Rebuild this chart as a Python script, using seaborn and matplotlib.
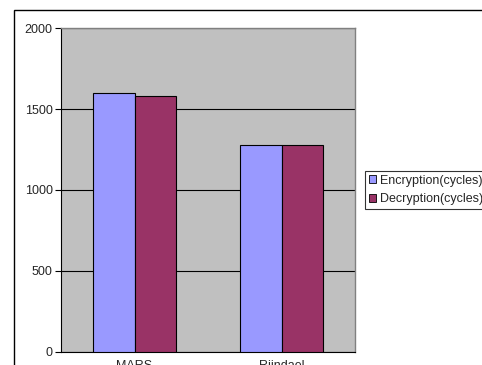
import matplotlib
matplotlib.use("Agg")
import matplotlib.pyplot as plt
import seaborn as sns
import pandas as pd
from matplotlib.patches import Rectangle

# Cycle counts per cipher
ciphers = ["MARS", "Rijndael"]
series = ["Encryption(cycles)", "Decryption(cycles)"]
encryption = [1600, 1276]
decryption = [1580, 1276]
y_ticks = [0, 500, 1000, 1500, 2000]

df = pd.DataFrame({
    "cipher": ciphers * 2,
    "series": [series[0]] * len(ciphers) + [series[1]] * len(ciphers),
    "cycles": encryption + decryption,
})

sns.set_style("white")
plt.rcParams["font.family"] = ["Liberation Sans", "DejaVu Sans"]

fig = plt.figure(figsize=(4.82, 3.65), dpi=100)
W, H = 482, 365
ax = fig.add_axes([61 / W, 1 - 351.7 / H, (355 - 61) / W, (351.7 - 28.3) / H])
ax.set_facecolor("#C0C0C0")

sns.barplot(data=df, x="cipher", y="cycles", hue="series",
            palette=["#9999FF", "#993366"], width=0.571, gap=0,
            edgecolor="black", linewidth=0.8, saturation=1,
            ax=ax, zorder=3)

ax.set_ylim(0, 2000)
ax.set_xlim(-0.5, 1.5)
ax.set_yticks(y_ticks)
ax.yaxis.grid(True, color="black", linewidth=0.8, zorder=0)
ax.set_axisbelow(True)
ax.set_xlabel("")
ax.set_ylabel("")
ax.tick_params(axis="y", length=4, width=0.8, color="black", labelsize=9, pad=2, left=True)
ax.tick_params(axis="x", length=0, labelsize=9, pad=6)
for side in ["left", "bottom"]:
    ax.spines[side].set_color("black")
    ax.spines[side].set_linewidth(0.8)
for side in ["top", "right"]:
    ax.spines[side].set_color("#808080")
    ax.spines[side].set_linewidth(1.0)

leg = ax.legend(loc="upper left", bbox_to_anchor=(365 / W, 1 - 171 / H),
                bbox_transform=fig.transFigure, frameon=True, fancybox=False,
                fontsize=9, handlelength=0.6, handleheight=0.6,
                handletextpad=0.3, borderpad=0.3, labelspacing=0.5,
                borderaxespad=0)
leg.get_frame().set_edgecolor("black")
leg.get_frame().set_linewidth(0.8)
for h in leg.legend_handles:
    h.set_edgecolor("black")
    h.set_linewidth(0.6)

# Outer chart-area frame
fig.patches.append(Rectangle((14 / W, -0.1), 1.2, 1 - 10 / H + 0.1,
                             transform=fig.transFigure, fill=False,
                             edgecolor="black", linewidth=1.0))

fig.savefig("out.png", dpi=100)
